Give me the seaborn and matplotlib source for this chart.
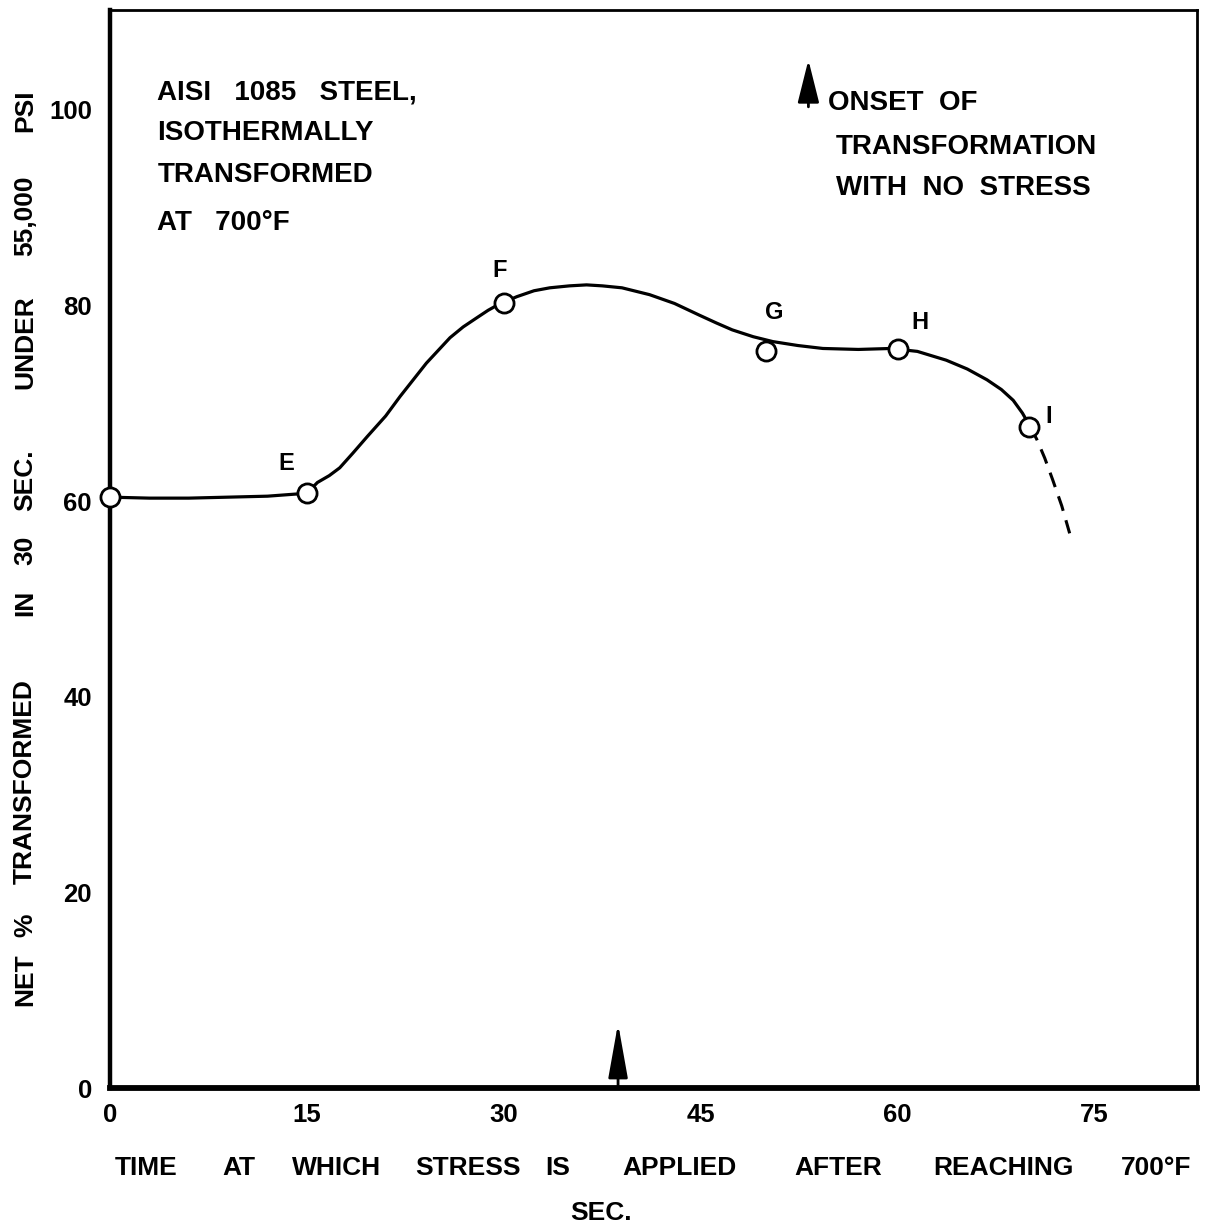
import matplotlib
matplotlib.use("Agg")
import matplotlib.pyplot as plt
import seaborn as sns
import pandas as pd

# ---------------- data ----------------
curve_x = [0, 3, 6, 9, 12, 14, 15, 15.8, 16.7, 17.5, 18.5, 19.6, 21, 22.1, 23.1, 24.1, 25, 25.9,
           26.9, 27.9, 28.8, 29.6, 31, 32.3, 33.5, 35, 36.3, 37.5, 39, 41.1, 43, 44.9, 46.2,
           47.4, 49, 50.5, 52.4, 54.3, 57, 59.5, 61.5, 63.7, 65.3, 66.8, 67.9, 68.8, 69.5, 70.1]
curve_y = [60.4, 60.3, 60.3, 60.4, 60.5, 60.7, 60.8, 61.9, 62.6, 63.4, 64.9, 66.6, 68.7, 70.7,
           72.4, 74.1, 75.4, 76.7, 77.8, 78.7, 79.5, 80.1, 80.9, 81.5, 81.8, 82.0, 82.1, 82.0,
           81.8, 81.1, 80.2, 79.0, 78.2, 77.5, 76.8, 76.3, 75.9, 75.6, 75.5, 75.6, 75.3, 74.4,
           73.5, 72.4, 71.4, 70.3, 69.0, 67.6]
dash_x = [70.1, 70.6, 71.2, 71.8, 72.5, 73.1]
dash_y = [67.6, 66.3, 64.4, 62.2, 59.5, 56.7]

point_x = [0, 15, 30, 50, 60, 70]
point_y = [60.4, 60.8, 80.2, 75.3, 75.5, 67.6]
point_labels = ["", "E", "F", "G", "H", "I"]
label_x = [0, 13.4, 29.7, 50.6, 61.7, 71.5]
label_y = [0, 63.8, 83.6, 79.3, 78.3, 68.6]

x_ticks = [0, 15, 30, 45, 60, 75]
y_ticks = [0, 20, 40, 60, 80, 100]

stress_arrow_x = 38.7
onset_arrow_x = 53.2

left_note = ["AISI   1085   STEEL,", "ISOTHERMALLY", "TRANSFORMED", "AT   700\u00b0F"]
right_note = ["ONSET  OF", "TRANSFORMATION", "WITH  NO  STRESS"]

xlabel_words = ["TIME", "AT", "WHICH", "STRESS", "IS", "APPLIED", "AFTER", "REACHING", "700\u00b0F"]
xlabel_word_px = [146, 239, 337, 468, 558, 679, 838, 1003, 1156]
ylabel_words = ["NET", "%", "TRANSFORMED", "IN", "30", "SEC.", "UNDER", "55,000", "PSI"]
ylabel_word_px = [980, 925, 782, 603, 550, 480, 342, 216, 111]

# ---------------- figure ----------------
W, H = 1211, 1227
sns.set_theme(style="white")
plt.rcParams["font.family"] = ["Liberation Sans", "DejaVu Sans"]
plt.rcParams["font.weight"] = "bold"
plt.rcParams["text.color"] = "black"
plt.rcParams["axes.labelcolor"] = "black"
plt.rcParams["xtick.color"] = "black"
plt.rcParams["ytick.color"] = "black"

fig = plt.figure(figsize=(W / 100, H / 100), dpi=100)
fig.patch.set_facecolor("white")
ax = fig.add_axes([110 / W, 1 - 1088 / H, (1197 - 110) / W, (1088 - 10) / H])
ax.set_facecolor("white")

curve = pd.DataFrame({"x": curve_x, "y": curve_y})
dash = pd.DataFrame({"x": dash_x, "y": dash_y})
pts = pd.DataFrame({"x": point_x, "y": point_y})

sns.lineplot(data=curve, x="x", y="y", sort=False, color="black", lw=2.3, ax=ax, zorder=2)
sns.lineplot(data=dash, x="x", y="y", sort=False, color="black", lw=2.2, ax=ax, zorder=2,
             linestyle=(0, (5, 3.2)))
sns.scatterplot(data=pts, x="x", y="y", s=190, marker="o", facecolor="white",
                edgecolor="black", linewidth=2.0, ax=ax, zorder=3, clip_on=False)

for lx, ly, t in zip(label_x, label_y, point_labels):
    if t:
        ax.text(lx, ly, t, fontsize=17, fontweight="bold", ha="center", va="center", color="black")

ax.set_xlim(0, 82.8)
ax.set_ylim(0, 110.2)
ax.set_xticks(x_ticks)
ax.set_yticks(y_ticks)
ax.set_xticklabels([str(v) for v in x_ticks], fontsize=18.5, fontweight="bold", color="black")
ax.set_yticklabels([str(v) for v in y_ticks], fontsize=18.5, fontweight="bold", color="black")
ax.tick_params(axis="x", direction="in", length=16, width=1.6, pad=11, colors="black")
ax.tick_params(axis="y", direction="in", length=14, width=1.6, pad=13, colors="black")
ax.set_xlabel("")
ax.set_ylabel("")

for side, lw in [("left", 3.2), ("bottom", 4.2), ("top", 2.0), ("right", 2.0)]:
    ax.spines[side].set_visible(True)
    ax.spines[side].set_color("black")
    ax.spines[side].set_linewidth(lw)

# arrows
ax.annotate("", xy=(stress_arrow_x, 6.6), xytext=(stress_arrow_x, 0),
            arrowprops=dict(arrowstyle="-|>,head_length=2.8,head_width=0.5",
                            color="black", lw=2.0, shrinkA=0, shrinkB=0))
ax.annotate("", xy=(onset_arrow_x, 105.1), xytext=(onset_arrow_x, 100.3),
            arrowprops=dict(arrowstyle="-|>,head_length=2.2,head_width=0.55",
                            color="black", lw=2.0, shrinkA=0, shrinkB=0))

# notes
for yv, t in zip([101.8, 97.6, 93.3, 88.4], left_note):
    ax.text(3.6, yv, t, fontsize=20, fontweight="bold", ha="left", va="center", color="black")
for (xv, yv), t in zip([(54.7, 100.7), (55.3, 96.2), (55.3, 92.0)], right_note):
    ax.text(xv, yv, t, fontsize=20, fontweight="bold", ha="left", va="center", color="black")

# axis labels, word by word
for w, px in zip(xlabel_words, xlabel_word_px):
    fig.text(px / W, 1 - 1168 / H, w, fontsize=19, fontweight="bold", ha="center", va="center",
             color="black")
fig.text(601 / W, 1 - 1213 / H, "SEC.", fontsize=19, fontweight="bold", ha="center", va="center",
         color="black")
for w, py in zip(ylabel_words, ylabel_word_px):
    fig.text(25 / W, 1 - py / H, w, fontsize=19, fontweight="bold", ha="center", va="center",
             rotation=90, color="black")

fig.savefig("out.png", dpi=100, facecolor="white")
